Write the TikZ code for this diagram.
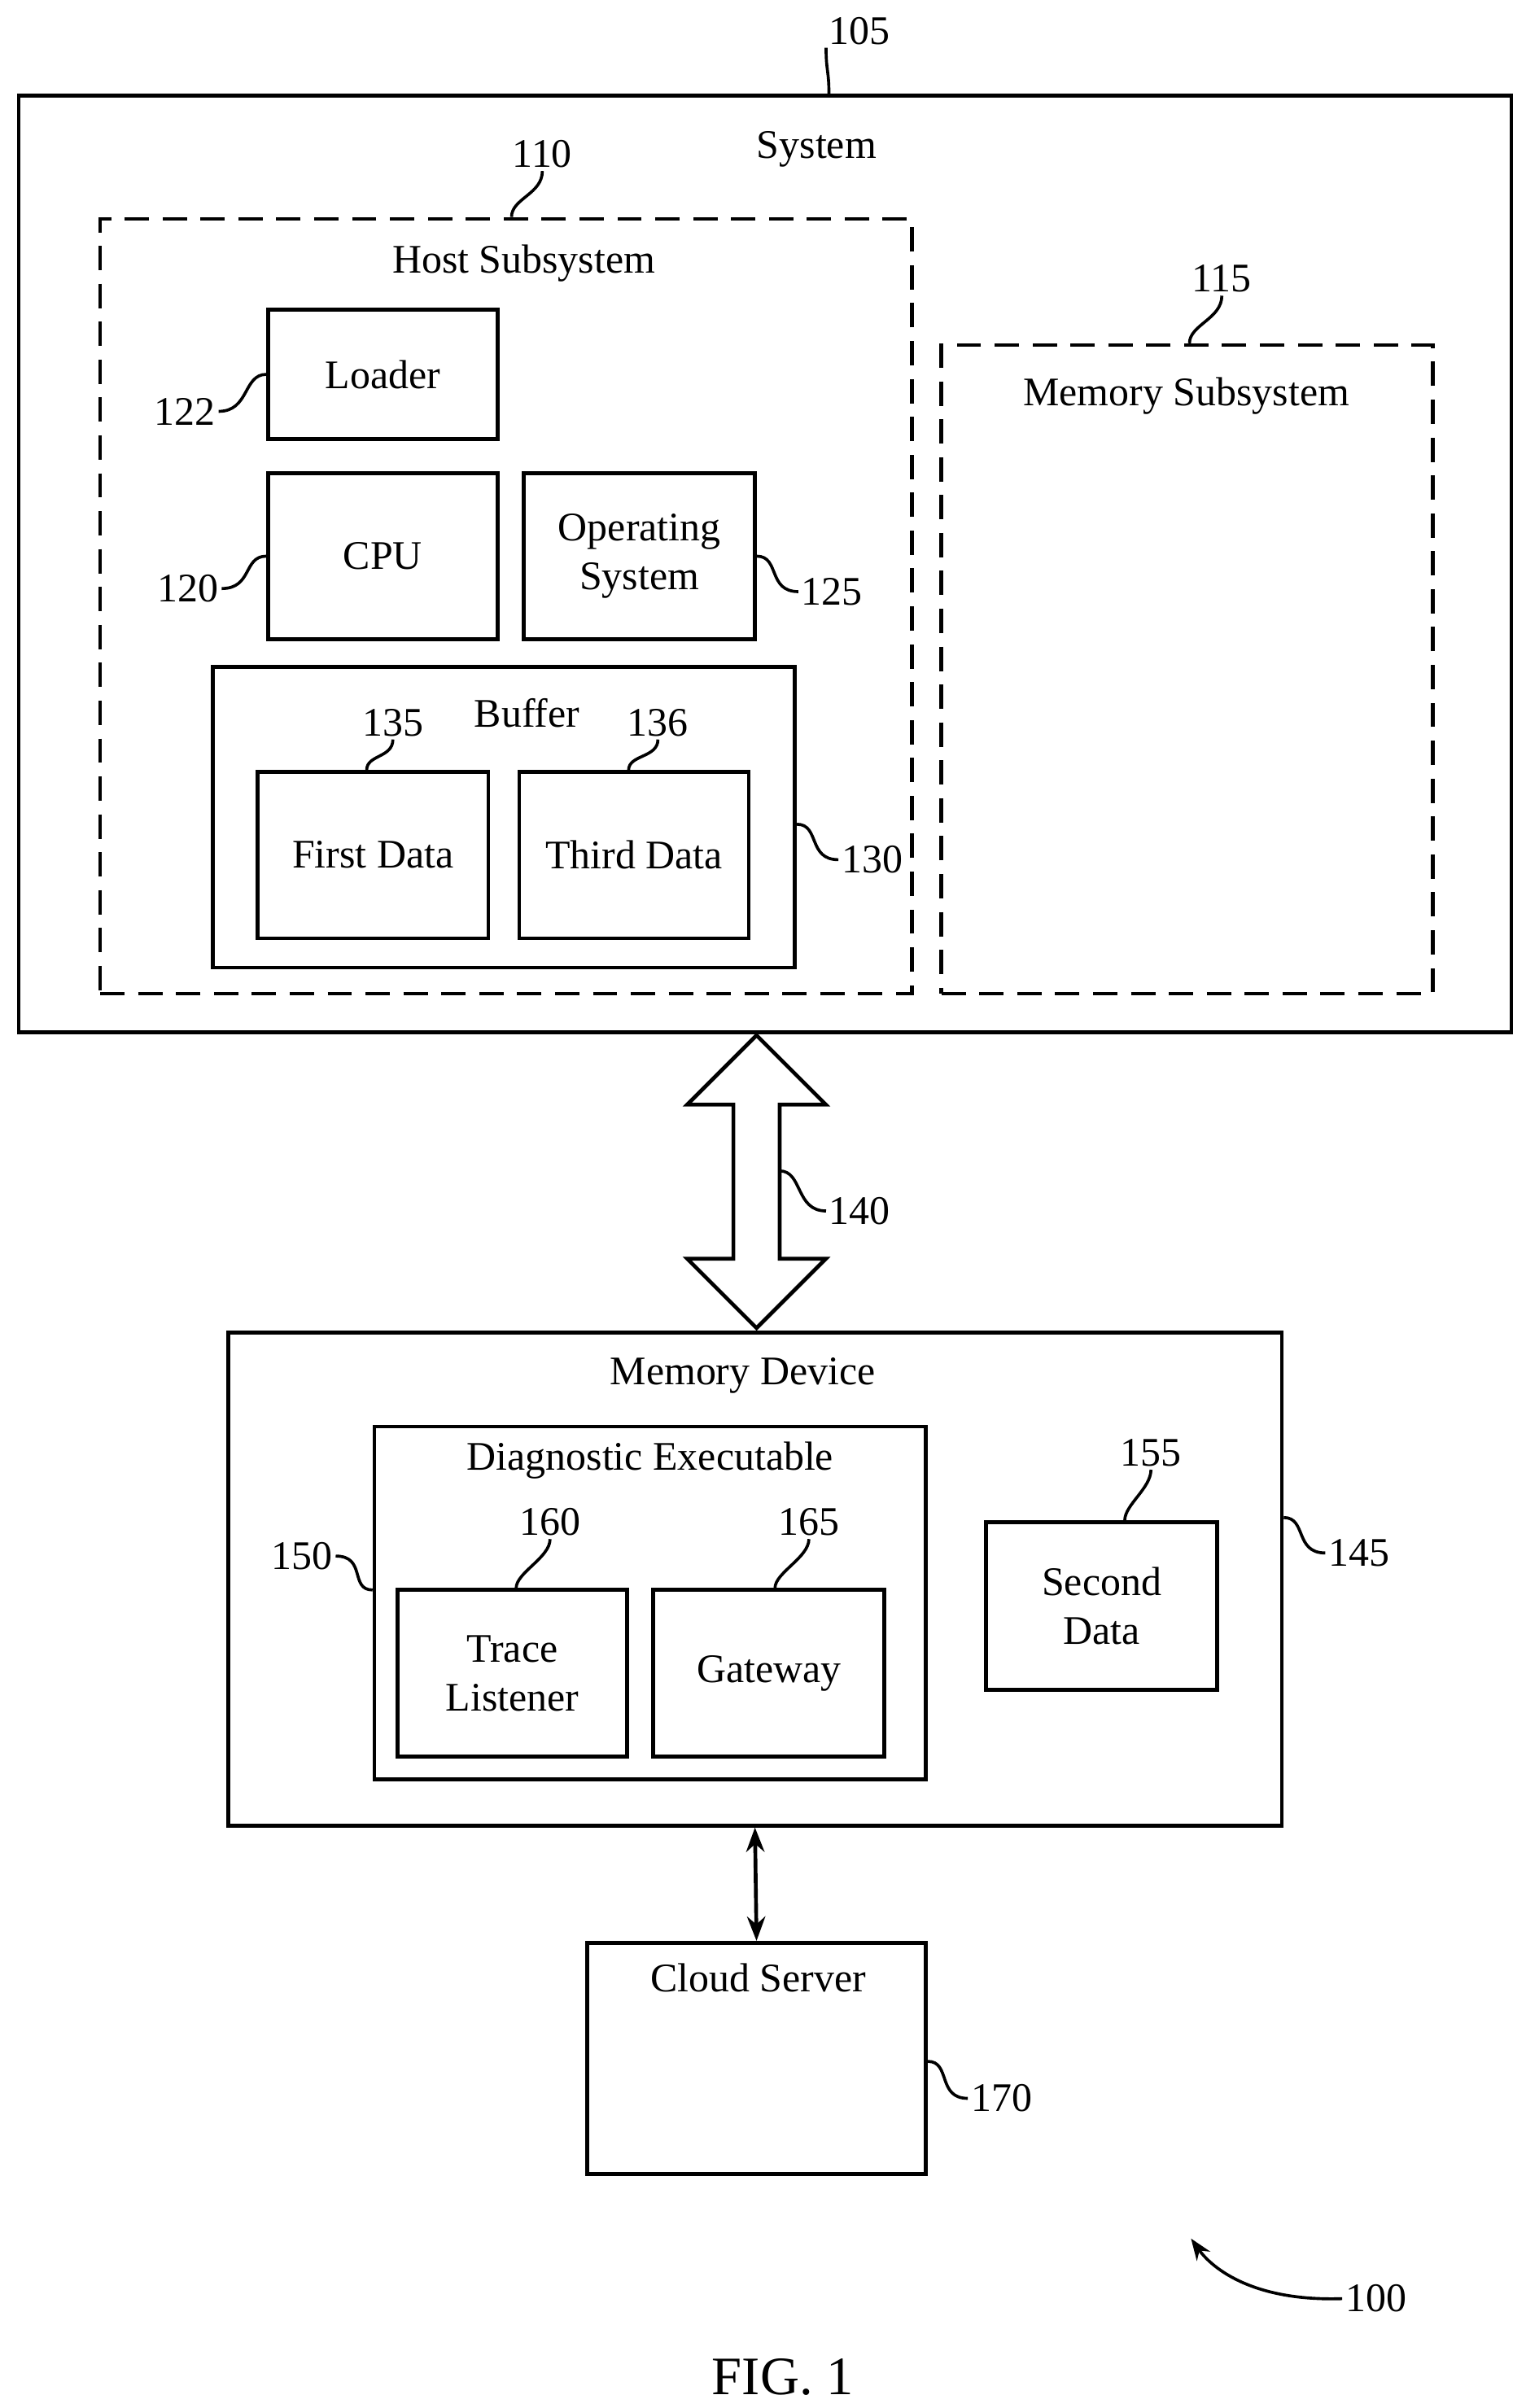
\documentclass[tikz,border=0pt]{standalone}
\usepackage{fontspec}
\setmainfont{Liberation Serif}
\usetikzlibrary{arrows.meta,positioning}

\begin{document}
\begin{tikzpicture}
    [
        x=0.02cm, y=-0.02cm,
        every node/.style={font=\fontsize{15}{18}\selectfont},
        Block/.style={rectangle,draw,line width=1.4pt,inner sep=0pt,align=center},
        DashBlock/.style={Block,dashed,dash pattern=on 9pt off 5pt},
        Num/.style={inner sep=1pt},
        Lead/.style={line width=1.1pt}
    ]
    \useasboundingbox (0,0) rectangle (990,1563);

    % system and subsystems
    \node[Block,minimum width=19.38cm,minimum height=12.16cm] (system) at (496.5,366) {};
    \node (system_label) at (530,97) {System};
    \node[DashBlock,minimum width=10.54cm,minimum height=10.06cm] (host) at (328.5,393.5) {};
    \node (host_label) at (340,171) {Host Subsystem};
    \node[DashBlock,minimum width=6.38cm,minimum height=8.42cm] (memsub) at (770.5,434.5) {};
    \node (memsub_label) at (770,257) {Memory Subsystem};

    \node[Block,minimum width=2.98cm,minimum height=1.68cm] (loader) at (248.5,243) {Loader};
    \node[Block,minimum width=2.98cm,minimum height=2.16cm] (cpu) at (248.5,361) {CPU};
    \node[Block,minimum width=3.0cm,minimum height=2.16cm] (os) at (415,361) {Operating\\System};
    \node[Block,minimum width=7.56cm,minimum height=3.9cm] (buffer) at (327,530.5) {};
    \node (buffer_label) at (342,463) {Buffer};
    \node[Block,minimum width=3.0cm,minimum height=2.16cm] (first) at (242,555) {First Data};
    \node[Block,minimum width=2.98cm,minimum height=2.16cm] (third) at (411.5,555) {Third Data};

    % bus
    \draw[line width=1.4pt,fill=white] (491,672) -- (536,717) -- (506,717) -- (506,817) -- (536,817)
        -- (491,862) -- (446,817) -- (476,817) -- (476,717) -- (446,717) -- cycle;
    \coordinate (bus) at (506,760);

    % memory device
    \node[Block,minimum width=13.68cm,minimum height=6.4cm] (memdev) at (490,1025) {};
    \node (memdev_label) at (482,893) {Memory Device};
    \node[Block,minimum width=7.16cm,minimum height=4.58cm] (diag) at (422,1040.5) {};
    \node (diag_label) at (422,948) {Diagnostic Executable};
    \node[Block,minimum width=2.98cm,minimum height=2.16cm] (trace) at (332.5,1086) {Trace\\Listener};
    \node[Block,minimum width=3.0cm,minimum height=2.16cm] (gateway) at (499,1086) {Gateway};
    \node[Block,minimum width=3.0cm,minimum height=2.18cm] (second) at (715,1042.5) {Second\\Data};

    \node[Block,minimum width=4.4cm,minimum height=3.0cm] (cloud) at (491,1336) {};
    \node (cloud_label) at (492,1284) {Cloud Server};
    \draw[line width=1.4pt,{Stealth[length=9pt]}-{Stealth[length=9pt]}] (memdev.south) -- (cloud.north);

    % reference numerals
    \node[Num] (n105) at (558,20) {105};
    \node[Num] (n110) at (352,100) {110};
    \node[Num] (n115) at (793,181) {115};
    \node[Num] (n122) at (120,267) {122};
    \node[Num] (n120) at (122,382) {120};
    \node[Num] (n125) at (540,384) {125};
    \node[Num] (n130) at (566,558) {130};
    \node[Num] (n135) at (255,469) {135};
    \node[Num] (n136) at (427,469) {136};
    \node[Num] (n140) at (558,786) {140};
    \node[Num] (n145) at (882,1008) {145};
    \node[Num] (n150) at (196,1010) {150};
    \node[Num] (n155) at (747,943) {155};
    \node[Num] (n160) at (357,988) {160};
    \node[Num] (n165) at (525,988) {165};
    \node[Num] (n170) at (650,1362) {170};
    \node[Num] (n100) at (893,1492) {100};
    \node[font=\fontsize{20}{24}\selectfont] (fig) at (508,1543) {FIG. 1};

    % leaders
    \draw[Lead] (n105.south west) .. controls +(0,15) and +(0,-15) .. (system.north -| 538,0);
    \draw[Lead] (n110.south) .. controls +(0,15) and +(0,-12) .. (host.north -| 332,0);
    \draw[Lead] (n115.south) .. controls +(0,15) and +(0,-12) .. (memsub.north -| 772,0);
    \draw[Lead] (n122.east) .. controls +(20,0) and +(-15,0) .. (loader.west);
    \draw[Lead] (n120.east) .. controls +(20,0) and +(-15,0) .. (cpu.west);
    \draw[Lead] (n125.west) .. controls +(-20,0) and +(15,0) .. (os.east);
    \draw[Lead] (n130.west) .. controls +(-20,0) and +(15,0) .. (buffer.east |- 0,535);
    \draw[Lead] (n135.south) .. controls +(0,12) and +(0,-10) .. (first.north -| 238,0);
    \draw[Lead] (n136.south) .. controls +(0,12) and +(0,-10) .. (third.north -| 408,0);
    \draw[Lead] (n140.west) .. controls +(-20,0) and +(15,0) .. (bus);
    \draw[Lead] (n145.west) .. controls +(-20,0) and +(15,0) .. (memdev.east |- 0,985);
    \draw[Lead] (n150.east) .. controls +(20,0) and +(-15,0) .. (diag.west |- 0,1032);
    \draw[Lead] (n155.south) .. controls +(0,12) and +(0,-10) .. (second.north -| 730,0);
    \draw[Lead] (n160.south) .. controls +(0,12) and +(0,-10) .. (trace.north -| 335,0);
    \draw[Lead] (n165.south) .. controls +(0,12) and +(0,-10) .. (gateway.north -| 503,0);
    \draw[Lead] (n170.west) .. controls +(-20,0) and +(15,0) .. (cloud.east |- 0,1338);
    \coordinate (tip100) at (773,1453);
    \draw[Lead,-{Stealth[length=8pt]}] (n100.west) .. controls (810,1494) and (785,1470) .. (tip100);
\end{tikzpicture}
\end{document}
